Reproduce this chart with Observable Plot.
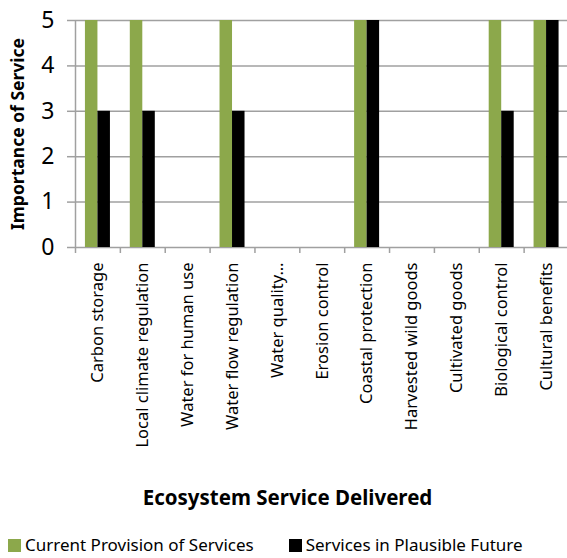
<!DOCTYPE html>
<html><head><meta charset="utf-8">
<script src="https://cdn.jsdelivr.net/npm/d3@7"></script>
<script src="https://cdn.jsdelivr.net/npm/@observablehq/plot@0.6"></script>
<style>
body{margin:0;background:#fff;font-family:"Noto Sans",sans-serif;width:567px;height:558px;position:relative;overflow:hidden}
#title{position:absolute;left:0;width:567px;top:482px;text-align:center;font-weight:bold;font-size:20.5px;line-height:30px;padding-left:8px;box-sizing:border-box}
#legend{position:absolute;left:8px;top:534px;font-size:17px;line-height:22px;display:flex;white-space:nowrap}
.item{display:flex;align-items:center}
.sw{width:13px;height:13px;margin-right:4px;display:inline-block}
</style>
</head><body><div id="chart"></div>
<div id="title">Ecosystem Service Delivered</div>
<div id="legend"></div>
<script>
const categories = ["Carbon storage","Local climate regulation","Water for human use","Water flow regulation","Water quality…","Erosion control","Coastal protection","Harvested wild goods","Cultivated goods","Biological control","Cultural benefits"];
const current = [5,5,0,5,0,0,5,0,0,5,5];
const future = [3,3,0,3,0,0,5,0,0,3,5];
const yTicks = [0,1,2,3,4,5];
const seriesNames = ["Current Provision of Services","Services in Plausible Future"];
const colors = ["#8CA84B","#000000"];
const yLabel = "Importance of Service";

const data = categories.flatMap((c,i)=>[
  {cat:c, series:seriesNames[0], value:current[i]},
  {cat:c, series:seriesNames[1], value:future[i]}
]);

const W=567, H=478, mL=75, mR=-1.5, mT=20, mB=231;
const step = (W-mL-mR)/categories.length;
const half = step/2;
const barW = 12.5;
const grid = "#a0a0a0";

const plot = Plot.plot({
  width: W, height: H, marginLeft: mL, marginRight: mR, marginTop: mT, marginBottom: mB,
  style: {fontFamily: '"Noto Sans", sans-serif', background: "white", overflow: "visible", color: "black"},
  x: {domain: categories, padding: 0, round: false, axis: null},
  y: {domain: [0,5], axis: null},
  marks: [
    Plot.ruleY(yTicks, {y: d=>d, stroke: grid, strokeWidth: 1.5}),
    Plot.axisY(yTicks, {tickSize: 8, tickPadding: 13, fontSize: 23, stroke: grid, strokeWidth: 1.5, fill: "black", label: null}),
    Plot.ruleX([categories[0]], {x: d=>d, dx: -half, y1: 0, y2: 5, stroke: grid, strokeWidth: 1.5}),
    Plot.axisX(categories, {tickSize: 6, tickFormat: () => "", dx: -half, stroke: grid, strokeWidth: 1.5, label: null}),
    Plot.axisX(categories, {tickSize: 0, tickPadding: 15, tickRotate: -90, fontSize: 16.5, fill: "black", label: null}),
    Plot.barY(data.filter(d=>d.series===seriesNames[0]), {x: "cat", y: "value", fill: colors[0], insetLeft: half-barW, insetRight: half}),
    Plot.barY(data.filter(d=>d.series===seriesNames[1]), {x: "cat", y: "value", fill: colors[1], insetLeft: half, insetRight: half-barW}),
    Plot.text([yLabel], {frameAnchor: "left", textAnchor: "middle", rotate: -90, dx: -57, fontSize: 17.5, fontWeight: "bold", fill: "black"})
  ]
});
document.getElementById("chart").appendChild(plot);

const lg = document.getElementById("legend");
seriesNames.forEach((s,i)=>{
  const it = document.createElement("div");
  it.className = "item";
  it.style.marginRight = i===0 ? "35px" : "0";
  it.innerHTML = `<span class="sw" style="background:${colors[i]}"></span><span>${s}</span>`;
  lg.appendChild(it);
});
</script>
</body></html>
